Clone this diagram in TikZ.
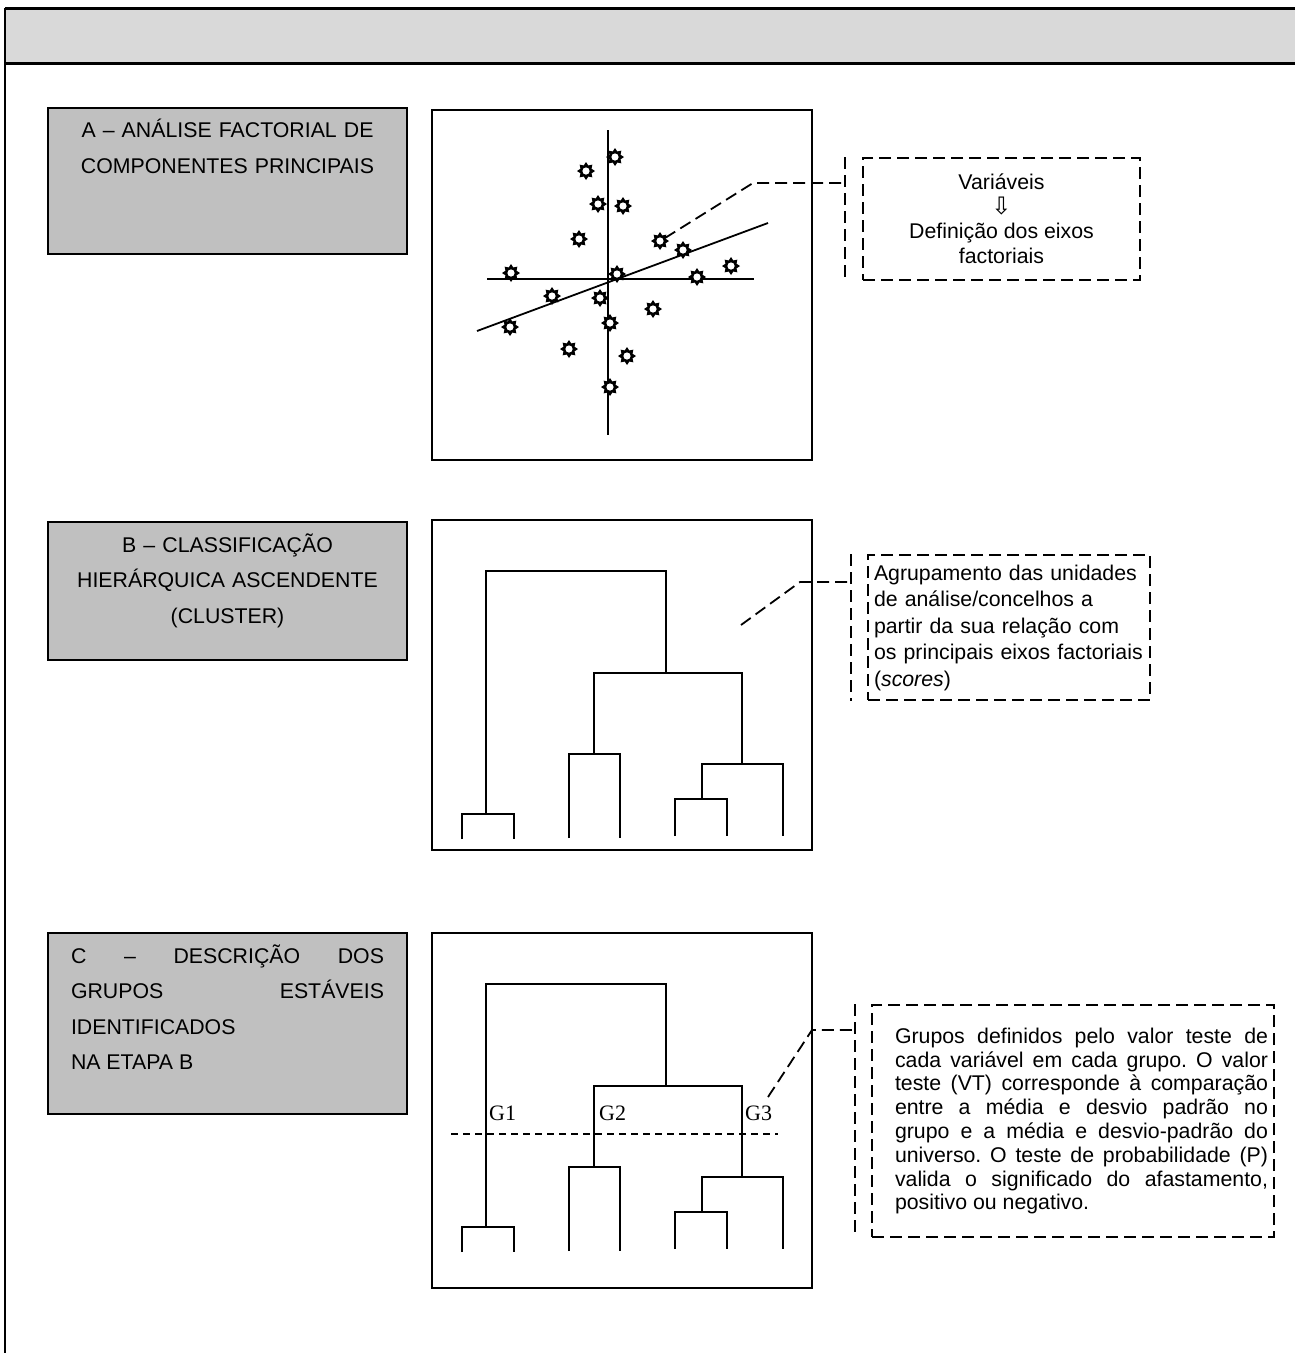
\documentclass[tikz,border=0pt]{standalone}
\usepackage{fontspec}
\setmainfont{Liberation Sans}
\newfontfamily\grpfont{Liberation Serif}
\newfontfamily\arrowfont{DejaVu Sans}
\usetikzlibrary{shapes.geometric, positioning, calc}
\definecolor{headgray}{HTML}{D9D9D9}
\definecolor{stagegray}{HTML}{C0C0C0}
\frenchspacing
\tikzset{
  stage/.style={
    rectangle, draw=black, line width=1.8pt, fill=stagegray,
    minimum width=359pt, inner sep=0pt
  },
  stagetext/.style={
    inner sep=0pt, text width=313pt,
    font=\fontsize{21.3}{35.5}\selectfont
  },
  panel/.style={
    rectangle, draw=black, line width=1.8pt, fill=white,
    minimum width=380pt, inner sep=0pt
  },
  note/.style={
    rectangle, draw=black, line width=1.8pt, dash pattern=on 12pt off 6pt,
    inner sep=0pt, font=\fontsize{21.3}{24.5}\selectfont
  },
  leader/.style={line width=1.8pt, dash pattern=on 12pt off 6pt},
  tree/.style={line width=1.8pt},
  axis/.style={line width=1.8pt},
  cutline/.style={line width=1.8pt, dash pattern=on 7pt off 5pt},
  sunmark/.style={
    star, star points=8, star point ratio=1.5, fill=black,
    minimum size=18pt, inner sep=0pt,
    path picture={\fill[white] (path picture bounding box.center) circle (3.6pt);}
  },
  grp/.style={font=\grpfont\fontsize{22}{22}\selectfont, inner sep=0pt, anchor=base west}
}

\begin{document}
\begin{tikzpicture}[x=1pt, y=-1pt]
  \useasboundingbox (0,0) rectangle (1295,1353);
  \clip (0,0) rectangle (1295,1353);

  % frame and shaded heading
  \fill[headgray] (5,8) rectangle (1310,63);
  \draw[line width=3pt] (5,8) -- (1310,8);
  \draw[line width=3pt] (5,63) -- (1310,63);
  \draw[line width=1.6pt] (5,8) -- (5,1360);

  % stages
  \node[stage, minimum height=146pt] (boxA) at (227.5,181) {};
  \node[stage, minimum height=138pt] (boxB) at (227.5,591) {};
  \node[stage, minimum height=181pt] (boxC) at (227.5,1023.5) {};
  \node[stagetext, align=center, anchor=north] (boxA-txt) at ([yshift=-12pt]boxA.north)
    {A – ANÁLISE FACTORIAL DE\\COMPONENTES PRINCIPAIS};
  \node[stagetext, align=center, anchor=north] (boxB-txt) at ([yshift=-12pt]boxB.north)
    {B – CLASSIFICAÇÃO\\HIERÁRQUICA ASCENDENTE\\(CLUSTER)};
  \node[stagetext, align=justify, anchor=north] (boxC-txt) at ([yshift=-12pt]boxC.north)
    {\tolerance=10000 C – DESCRIÇÃO DOS\linebreak GRUPOS ESTÁVEIS\linebreak IDENTIFICADOS\linebreak NA ETAPA B};

  % panels
  \node[panel, minimum height=350pt] (plotA) at (622,285) {};
  \node[panel, minimum height=330pt] (plotB) at (622,685) {};
  \node[panel, minimum height=355pt] (plotC) at (622,1110.5) {};

  % factorial plane
  \draw[axis] (608,130) -- (608,435);
  \draw[axis] (487,279) -- (754,279);
  \draw[axis] (477,331) -- (768,223);
  \foreach \sx/\sy [count=\k] in {615/157, 586/171, 598/204, 623/206, 579/239,
      660/241, 683/250, 511/273, 617/274, 697/277, 731/266, 552/296, 600/298,
      653/309, 510/327, 610/323, 569/349, 627/356, 610/387}
    \node[sunmark] (sun\k) at (\sx,\sy) {};

  % dendrograms
  \foreach \dy in {0,413} {
    \begin{scope}[shift={(0,\dy)}]
      \draw[tree] (462,839) |- (514,814) -- (514,839);
      \draw[tree] (486,814) |- (666,571) -- (666,673);
      \draw[tree] (569,838) |- (620,754) -- (620,838);
      \draw[tree] (594,754) |- (742,673) -- (742,764);
      \draw[tree] (675,836) |- (727,799) -- (727,836);
      \draw[tree] (702,799) |- (783,764) -- (783,836);
    \end{scope}
  }
  \draw[cutline] (451,1134) -- (778,1134);
  \node[grp] (g1) at (489,1120) {G1};
  \node[grp] (g2) at (599,1120) {G2};
  \node[grp] (g3) at (745,1120) {G3};

  % notes
  \node[note, minimum width=277pt, minimum height=122pt, align=center] (noteA) at (1001.5,219)
    {Variáveis\\{\arrowfont\fontsize{24}{15}\selectfont ⇩}\\Definição dos eixos\\factoriais};
  \node[note, minimum width=282pt, minimum height=145pt, text width=270pt, align=left,
    font=\fontsize{21.3}{26.5}\selectfont] (noteB) at (1009,627.5)
    {Agrupamento das unidades\\de análise/concelhos a\\partir da sua relação com\\os principais eixos factoriais\\(\textit{scores})};
  \node[note, minimum width=402pt, minimum height=232pt,
    font=\fontsize{21.3}{23.8}\selectfont] (noteC) at (1073,1121)
    {\hspace*{23pt}\parbox{373pt}{\tolerance=10000 Grupos definidos pelo valor teste de\linebreak
     cada variável em cada grupo. O valor\linebreak
     teste (VT) corresponde à comparação\linebreak
     entre a média e desvio padrão no\linebreak
     grupo e a média e desvio-padrão do\linebreak
     universo. O teste de probabilidade (P)\linebreak
     valida o significado do afastamento,\linebreak
     positivo ou negativo.}\hspace*{6pt}};

  % callout leaders
  \coordinate (tipA) at (665,238);
  \coordinate (kneeA) at (753,183);
  \coordinate (barA) at ([xshift=-17pt]noteA.west);
  \draw[leader] ([xshift=-17pt]noteA.north west) -- ([xshift=-17pt]noteA.south west);
  \draw[leader] (tipA) -- (kneeA) -- (kneeA -| barA);

  \coordinate (tipB) at (741,625);
  \coordinate (kneeB) at (800,582);
  \coordinate (barB) at ([xshift=-16pt]noteB.west);
  \draw[leader] ([xshift=-16pt]noteB.north west) -- ([xshift=-16pt]noteB.south west);
  \draw[leader] (tipB) -- (kneeB) -- (kneeB -| barB);

  \coordinate (tipC) at (768,1097);
  \coordinate (kneeC) at (812,1030);
  \coordinate (barC) at ([xshift=-16pt]noteC.west);
  \draw[leader] ([xshift=-16pt]noteC.north west) -- ([xshift=-16pt]noteC.south west);
  \draw[leader] (tipC) -- (kneeC) -- (kneeC -| barC);
\end{tikzpicture}
\end{document}
